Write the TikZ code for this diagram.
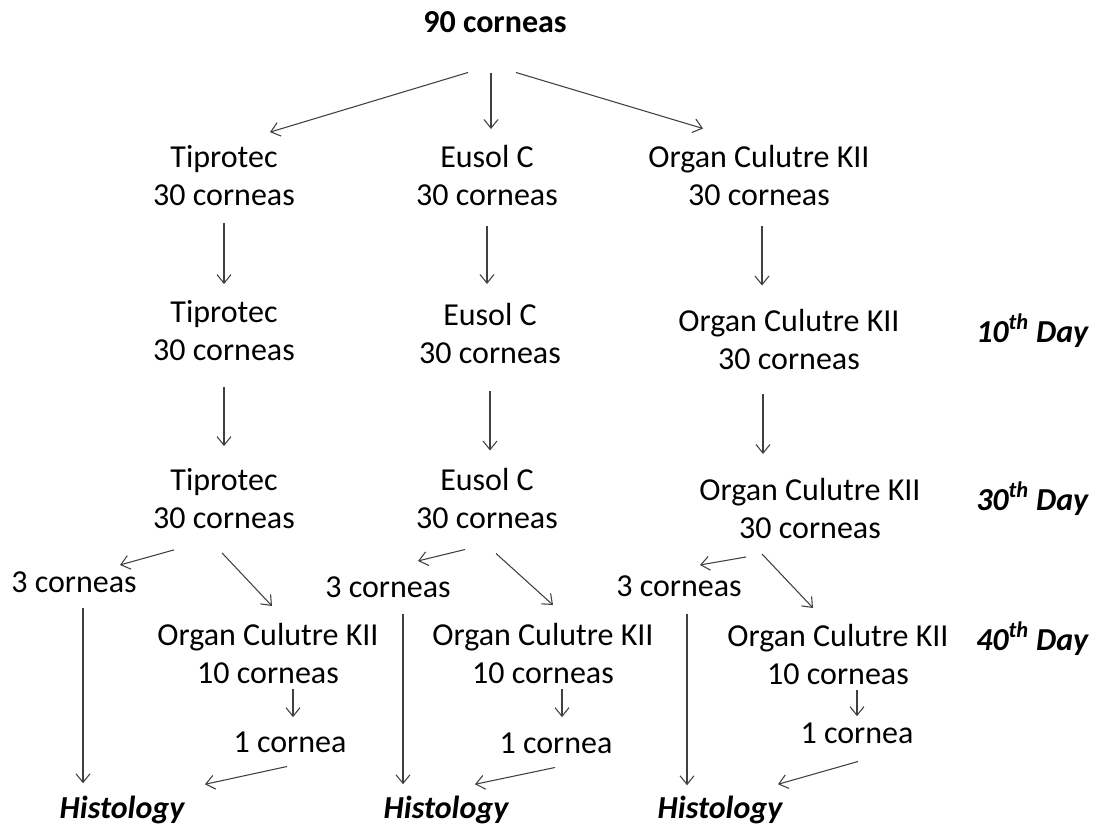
\documentclass[tikz,border=0pt]{standalone}
\usepackage{fontspec}
\setmainfont{Carlito}
\usetikzlibrary{arrows.meta}

\begin{document}
\begin{tikzpicture}[x=0.75pt, y=-0.75pt,
        txt/.style={inner sep=0pt, font=\fontsize{24}{28.5}\selectfont, text=black},
        blk/.style={txt, align=center},
        one/.style={txt, anchor=base},
        hist/.style={one, font=\fontsize{24}{28.5}\selectfont\bfseries\itshape},
        day/.style={txt, anchor=base west, font=\fontsize{24}{28.5}\selectfont\bfseries\itshape},
        >={Straight Barb[length=6.5pt, width=10.5pt]},
        arr/.style={->, draw=black!75, line width=0.8pt}]
        \useasboundingbox (0,0) rectangle (1101,828);

        % Nodes
        \node (top) [one, font=\fontsize{24}{28.5}\selectfont\bfseries] at (495,32) {90 corneas};

        \node (t1) [blk] at (224,175.5) {Tiprotec\\30 corneas};
        \node (e1) [blk] at (487,175.5) {Eusol C\\30 corneas};
        \node (o1) [blk] at (759,176) {Organ Culutre KII\\30 corneas};

        \node (t2) [blk] at (224,330.5) {Tiprotec\\30 corneas};
        \node (e2) [blk] at (490,333.5) {Eusol C\\30 corneas};
        \node (o2) [blk] at (789,340) {Organ Culutre KII\\30 corneas};

        \node (t3) [blk] at (224,498.5) {Tiprotec\\30 corneas};
        \node (e3) [blk] at (487,499) {Eusol C\\30 corneas};
        \node (o3) [blk] at (810,508.5) {Organ Culutre KII\\30 corneas};

        \node (c1) [one] at (74,592) {3 corneas};
        \node (c2) [one] at (388,597) {3 corneas};
        \node (c3) [one] at (679,596) {3 corneas};

        \node (k1) [blk] at (268,653.5) {Organ Culutre KII\\10 corneas};
        \node (k2) [blk] at (543,653.5) {Organ Culutre KII\\10 corneas};
        \node (k3) [blk] at (838,654.5) {Organ Culutre KII\\10 corneas};

        \node (s1) [one] at (290,752) {1 cornea};
        \node (s2) [one] at (556,753) {1 cornea};
        \node (s3) [one] at (857,743) {1 cornea};

        \node (h1) [hist] at (122,818) {Histology};
        \node (h2) [hist] at (446,818) {Histology};
        \node (h3) [hist] at (720,818) {Histology};

        \node (d10) [day] at (976,342) {10\textsuperscript{th} Day};
        \node (d30) [day] at (976,510) {30\textsuperscript{th} Day};
        \node (d40) [day] at (976,650) {40\textsuperscript{th} Day};

        % Arrows
        \draw[arr] ([shift={(-27,40)}]top.south) -- ([shift={(46,-13)}]t1.north);
        \draw[arr] ([shift={(-4,40)}]top.south) -- ([shift={(4,-16)}]e1.north);
        \draw[arr] ([shift={(21,40)}]top.south) -- ([shift={(-56,-17)}]o1.north);

        \draw[arr] ([shift={(0,17)}]t1.south) -- ([shift={(0,-16)}]t2.north);
        \draw[arr] ([shift={(0,26)}]t2.south) -- ([shift={(0,-22)}]t3.north);
        \draw[arr] ([shift={(0,20)}]e1.south) -- ([shift={(-3,-19)}]e2.north);
        \draw[arr] ([shift={(0,27)}]e2.south) -- ([shift={(3,-18)}]e3.north);
        \draw[arr] ([shift={(3,20)}]o1.south) -- ([shift={(-27,-24)}]o2.north);
        \draw[arr] ([shift={(-26,24)}]o2.south) -- ([shift={(-47,-24)}]o3.north);

        \draw[arr] ([shift={(-50,21)}]t3.south) -- ([shift={(46,-6)}]c1.north);
        \draw[arr] ([shift={(-2,24)}]t3.south) -- ([shift={(4,-17)}]k1.north);
        \draw[arr] ([shift={(-22,20)}]e3.south) -- ([shift={(30,-15)}]c2.north);
        \draw[arr] ([shift={(9,24)}]e3.south) -- ([shift={(10,-18)}]k2.north);
        \draw[arr] ([shift={(-64,18)}]o3.south) -- ([shift={(21,-10)}]c3.north);
        \draw[arr] ([shift={(-48,15)}]o3.south) -- ([shift={(-25,-16)}]k3.north);

        \draw[arr] ([shift={(9,15)}]c1.south) -- ([shift={(-39,-12)}]h1.north);
        \draw[arr] ([shift={(15,16)}]c2.south) -- ([shift={(-43,-11)}]h2.north);
        \draw[arr] ([shift={(8,17)}]c3.south) -- ([shift={(-33,-10)}]h3.north);

        \draw[arr] ([shift={(25,5)}]k1.south) -- ([shift={(3,-14)}]s1.north);
        \draw[arr] ([shift={(19,5)}]k2.south) -- ([shift={(6,-15)}]s2.north);
        \draw[arr] ([shift={(19,5)}]k3.south) -- ([shift={(0,-6)}]s3.north);

        \draw[arr] ([shift={(-3,14)}]s1.south) -- ([shift={(83,-11)}]h1.north);
        \draw[arr] ([shift={(-1,14)}]s2.south) -- ([shift={(29,-11)}]h2.north);
        \draw[arr] ([shift={(1,18)}]s3.south) -- ([shift={(58,-11)}]h3.north);
\end{tikzpicture}
\end{document}
